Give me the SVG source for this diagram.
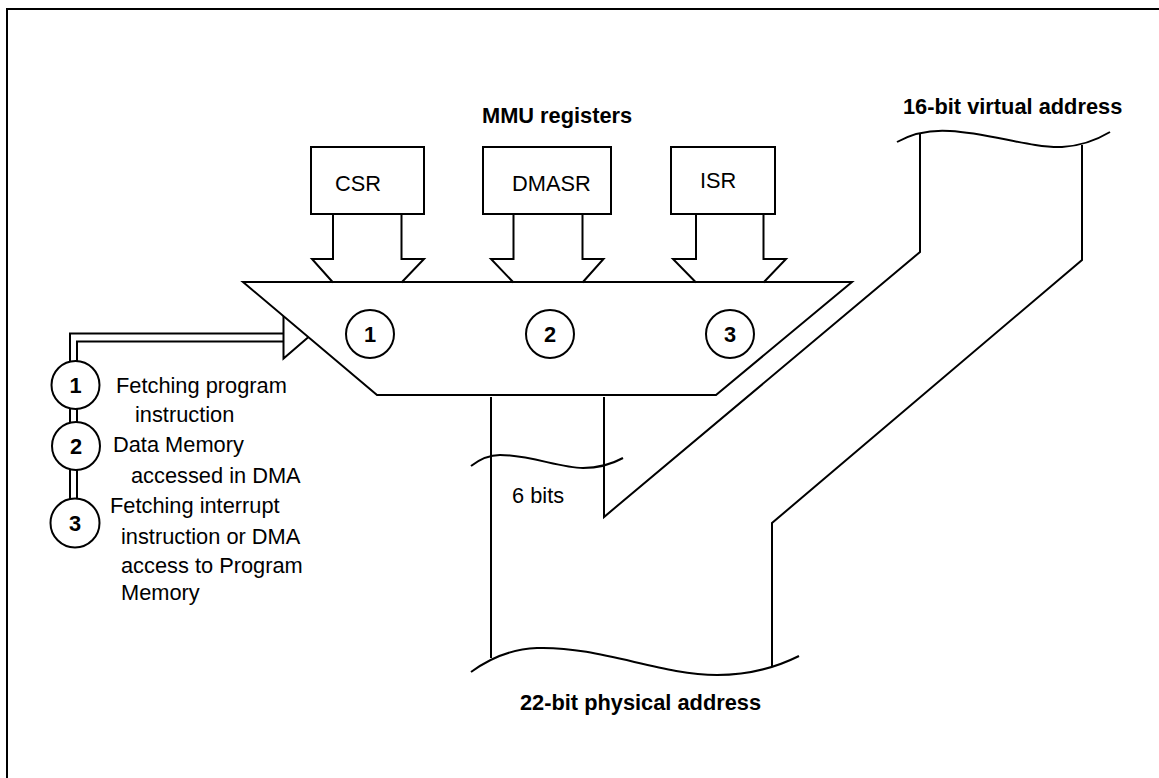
<svg xmlns="http://www.w3.org/2000/svg" width="1159" height="778" viewBox="0 0 1159 778">
<style>
.ln{fill:none;stroke:#000;stroke-width:2;stroke-linejoin:miter}
.sh{fill:#fff;stroke:#000;stroke-width:2}
.t{font-family:"Liberation Sans",Arial,sans-serif;font-size:21.8px;fill:#000}
.b{font-weight:bold}
.c{text-anchor:middle}
</style>
<rect width="1159" height="778" fill="#fff"/>
<path class="ln" d="M7,778 V9 H1159" stroke-width="2.5"/>

<text class="t b" x="482" y="123">MMU registers</text>

<g id="csr">
<rect class="sh" x="311" y="147" width="113" height="67"/>
<text class="t" x="335" y="191">CSR</text>
</g>
<g id="dmasr">
<rect class="sh" x="483" y="147" width="128" height="67"/>
<text class="t" x="512" y="191">DMASR</text>
</g>
<g id="isr">
<rect class="sh" x="671" y="147" width="104" height="67"/>
<text class="t" x="700" y="188">ISR</text>
</g>

<g id="mux">
<polygon class="sh" points="243,282 852,282 716,395 377,395"/>
<circle class="sh" cx="370" cy="334" r="24"/>
<text class="t b c" x="370" y="342">1</text>
<circle class="sh" cx="550" cy="334" r="24"/>
<text class="t b c" x="550" y="342">2</text>
<circle class="sh" cx="730" cy="334" r="24"/>
<text class="t b c" x="730" y="342">3</text>
</g>

<g id="connectors">
<path class="ln" d="M333,214 V259 H312 L333,282.5 M401.5,214 V259 H424 L401.5,282.5"/>
<path class="ln" d="M513.5,214 V259 H491 L513.5,282.5 M582.5,214 V259 H603.5 L582.5,282.5"/>
<path class="ln" d="M696,214 V259 H673 L696,282.5 M763.5,214 V259 H786 L763.5,282.5"/>
<path class="ln" d="M70,361 V333.5 H283.5 M77,361 V341.5 H283.5 M283.5,316 V358.5 L308.5,337"/>
<path class="ln" d="M70,409 V423 M77,409 V423 M70,470 V499 M77,470 V499"/>
<path class="ln" d="M491,397 V658"/>
<path class="ln" d="M604,397 V517 L920,252 V133"/>
<path class="ln" d="M772,666 V523 L1082,260 V145"/>
<path class="ln" d="M897,142 C915,132 935,130 950,131 C990,133 1030,148 1062,147 C1080,146 1095,141 1110,132"/>
<path class="ln" d="M471,466 C480,459 490,455 500,455 C530,455 560,468 583,468 C600,468 612,464 623,458"/>
<path class="ln" d="M471,672 C490,658 510,649 537,648 C600,646 660,675 717,675 C750,675 775,668 799,656"/>
</g>

<g id="legend">
<circle class="sh" cx="75.5" cy="385" r="24"/>
<text class="t b c" x="75.5" y="393">1</text>
<circle class="sh" cx="76" cy="446" r="24"/>
<text class="t b c" x="76" y="454">2</text>
<circle class="sh" cx="75" cy="523" r="24.5"/>
<text class="t b c" x="75" y="531">3</text>
<text class="t" x="116" y="393">Fetching program</text>
<text class="t" x="135" y="422">instruction</text>
<text class="t" x="113" y="452">Data Memory</text>
<text class="t" x="131" y="483">accessed in DMA</text>
<text class="t" x="110" y="513">Fetching interrupt</text>
<text class="t" x="121" y="544">instruction or DMA</text>
<text class="t" x="121" y="573">access to Program</text>
<text class="t" x="121" y="600">Memory</text>
</g>

<text class="t" x="512" y="503">6 bits</text>
<text class="t b" x="903" y="114">16-bit virtual address</text>
<text class="t b" x="520" y="710">22-bit physical address</text>
</svg>
